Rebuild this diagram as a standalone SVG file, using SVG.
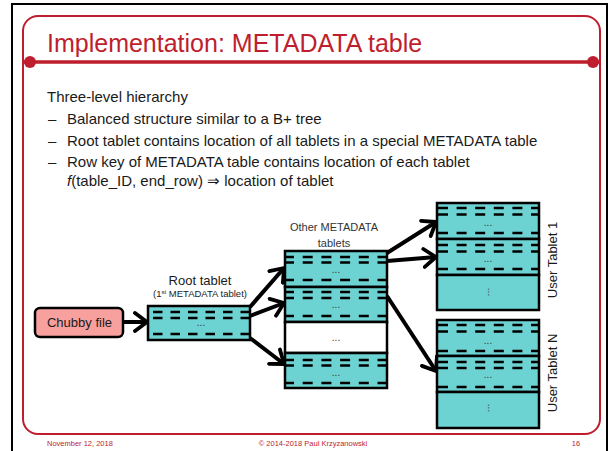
<svg xmlns="http://www.w3.org/2000/svg" width="613" height="451" viewBox="0 0 613 451">
<defs>
<style>
.f{font-family:"Liberation Sans",Arial,Helvetica,sans-serif}
.title{font-size:25px;fill:#BE1E2D}
.body{font-size:15px;fill:#1a1a1a}
.foot{font-size:7.5px;fill:#BE1E2D}
.tab{fill:#6DD2D2;stroke:#000;stroke-width:2.5}
.wh{fill:#fff;stroke:#000;stroke-width:2.5}
.dr{stroke:#000;stroke-width:2.7;stroke-dasharray:9.5 8;fill:none}
.dm{stroke:#000;stroke-width:2.7;stroke-dasharray:10 8.7;stroke-dashoffset:2;fill:none}
.du{stroke:#000;stroke-width:2.7;stroke-dasharray:10 8.6;fill:none}
.ell{font-size:10px;fill:#333;text-anchor:middle}
.lbl{font-size:13px;fill:#1a1a1a;text-anchor:middle}
.arr{stroke:#000;stroke-width:4;fill:none;marker-end:url(#ah)}
</style>
<marker id="ah" viewBox="0 0 16 22" refX="14" refY="11" markerWidth="16" markerHeight="22" markerUnits="userSpaceOnUse" orient="auto">
<path d="M2,2 L14,11 L2,20" fill="none" stroke="#000" stroke-width="3.8" stroke-linecap="round" stroke-linejoin="round"/>
</marker>
</defs>
<rect width="613" height="451" fill="#fff"/>
<g id="frame">
<path d="M12,451 V4 H607 V451" fill="none" stroke="#000" stroke-width="2"/>
<rect x="23" y="16" width="577" height="418" rx="15" fill="none" stroke="#BE1E2D" stroke-width="2"/>
<line x1="24" y1="62" x2="599" y2="62" stroke="#BE1E2D" stroke-width="3.5"/>
<circle cx="30" cy="62" r="6" fill="#BE1E2D"/>
<circle cx="593" cy="62" r="6" fill="#BE1E2D"/>
</g>
<text class="f title" x="47" y="52">Implementation: METADATA table</text>
<g id="bullets" class="f body">
<text x="47" y="102">Three-level hierarchy</text>
<text x="48" y="124">–</text><text x="67" y="124">Balanced structure similar to a B+ tree</text>
<text x="48" y="146">–</text><text x="67" y="146">Root tablet contains location of all tablets in a special METADATA table</text>
<text x="48" y="167">–</text><text x="67" y="167">Row key of METADATA table contains location of each tablet</text>
<text x="67" y="186"><tspan font-style="italic">f</tspan>(table_ID, end_row)  ⇒ location of tablet</text>
</g>
<g id="connectors">
<line class="arr" x1="124" y1="322" x2="147" y2="322"/>
<line class="arr" x1="250" y1="307" x2="284" y2="268"/>
<line class="arr" x1="250" y1="316" x2="284" y2="303"/>
<line class="arr" x1="250" y1="338" x2="284" y2="364"/>
<line class="arr" x1="387" y1="253" x2="436" y2="222"/>
<line class="arr" x1="387" y1="261" x2="436" y2="257"/>
<line class="arr" x1="387" y1="296" x2="436" y2="371"/>
</g>
<g id="chubby">
<rect x="35" y="308" width="88" height="29" rx="5" fill="#F8A09E" stroke="#000" stroke-width="2.5"/>
<text class="f lbl" x="79.5" y="327">Chubby file</text>
</g>
<g id="root">
<text class="f lbl" x="200" y="285">Root tablet</text>
<text class="f" x="200" y="297" font-size="9.5" fill="#1a1a1a" text-anchor="middle">(1<tspan font-size="6" dy="-3">st</tspan><tspan dy="3"> METADATA tablet)</tspan></text>
<rect class="tab" x="148" y="306" width="102" height="34"/>
<line class="dr" x1="153" y1="312" x2="249" y2="312"/>
<line class="dr" x1="153" y1="318" x2="249" y2="318"/>
<line class="dr" x1="153" y1="334" x2="249" y2="334"/>
<text class="f ell" x="201" y="326">...</text>
</g>
<g id="metadata">
<text class="f" x="334" y="231" font-size="11" fill="#333" text-anchor="middle">Other METADATA</text>
<text class="f" x="334" y="247" font-size="11" fill="#333" text-anchor="middle">tablets</text>
<rect class="tab" x="285" y="251" width="102" height="36"/>
<rect class="tab" x="285" y="287" width="102" height="35"/>
<rect class="wh" x="285" y="322" width="102" height="31"/>
<rect class="tab" x="285" y="353" width="102" height="35"/>
<line class="dm" x1="286" y1="257" x2="386" y2="257"/>
<line class="dm" x1="286" y1="262.5" x2="386" y2="262.5"/>
<line class="dm" x1="286" y1="280" x2="386" y2="280"/>
<line class="dm" x1="286" y1="292" x2="386" y2="292"/>
<line class="dm" x1="286" y1="298" x2="386" y2="298"/>
<line class="dm" x1="286" y1="316" x2="386" y2="316"/>
<line class="dm" x1="286" y1="360" x2="386" y2="360"/>
<line class="dm" x1="286" y1="365.5" x2="386" y2="365.5"/>
<line class="dm" x1="286" y1="383" x2="386" y2="383"/>
<text class="f ell" x="336" y="273">...</text>
<text class="f ell" x="336" y="308">...</text>
<text class="f ell" x="336" y="341">...</text>
<text class="f ell" x="336" y="376">...</text>
</g>
<g id="user1">
<rect class="tab" x="437" y="203" width="102" height="36"/>
<rect class="tab" x="437" y="239" width="102" height="36"/>
<rect class="tab" x="437" y="275" width="102" height="35"/>
<line class="du" x1="438" y1="208" x2="538" y2="208"/>
<line class="du" x1="438" y1="214.5" x2="538" y2="214.5"/>
<line class="du" x1="438" y1="233" x2="538" y2="233"/>
<line class="du" x1="438" y1="245" x2="538" y2="245"/>
<line class="du" x1="438" y1="251.5" x2="538" y2="251.5"/>
<line class="du" x1="438" y1="269" x2="538" y2="269"/>
<text class="f ell" x="488" y="226">...</text>
<text class="f ell" x="488" y="262">...</text>
<text class="f ell" transform="translate(488,292) rotate(90)">...</text>
<text class="f lbl" transform="translate(557,260) rotate(-90)">User Tablet 1</text>
</g>
<g id="userN">
<rect class="tab" x="437" y="320" width="102" height="36"/>
<rect class="tab" x="437" y="356" width="102" height="36"/>
<rect class="tab" x="437" y="392" width="102" height="36"/>
<line class="du" x1="438" y1="325" x2="538" y2="325"/>
<line class="du" x1="438" y1="331.5" x2="538" y2="331.5"/>
<line class="du" x1="438" y1="351" x2="538" y2="351"/>
<line class="du" x1="438" y1="362" x2="538" y2="362"/>
<line class="du" x1="438" y1="368" x2="538" y2="368"/>
<line class="du" x1="438" y1="387" x2="538" y2="387"/>
<text class="f ell" x="488" y="344">...</text>
<text class="f ell" x="488" y="378">...</text>
<text class="f ell" transform="translate(488,408) rotate(90)">...</text>
<text class="f lbl" transform="translate(557,373) rotate(-90)">User Tablet N</text>
</g>
<g id="footer" class="f foot">
<text x="47" y="446">November 12, 2018</text>
<text x="313" y="446" text-anchor="middle">© 2014-2018 Paul Krzyzanowski</text>
<text x="576" y="446" text-anchor="middle">16</text>
</g>
</svg>
